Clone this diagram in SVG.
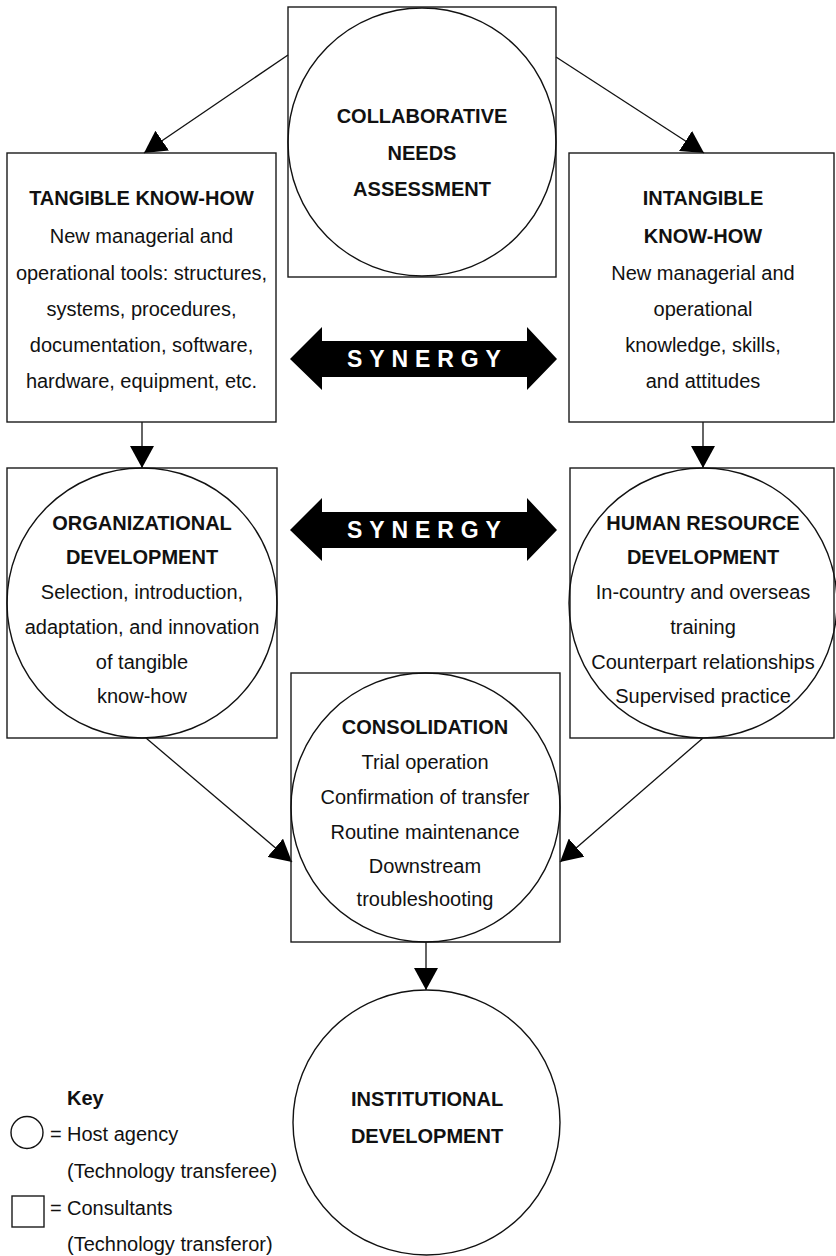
<svg xmlns="http://www.w3.org/2000/svg" width="836" height="1256" viewBox="0 0 836 1256">
  <style>
    .box { fill: none; stroke: #1a1a1a; stroke-width: 1.4; }
    .ell { fill: none; stroke: #111; stroke-width: 1.4; }
    .t { font-family: "Liberation Sans", Arial, sans-serif; font-size: 20px; fill: #111; text-anchor: middle; }
    .b { font-weight: bold; }
    .k { font-family: "Liberation Sans", Arial, sans-serif; font-size: 20px; fill: #111; }
    .conn { fill: none; stroke: #111; stroke-width: 1.3; }
    .syn { fill: #000; }
    .syntext { font-family: "Liberation Sans", Arial, sans-serif; font-weight: bold; font-size: 23px; fill: #fff; letter-spacing: 6.9px; }
  </style>
  <defs>
    <marker id="head" markerUnits="userSpaceOnUse" markerWidth="22" markerHeight="24" refX="22" refY="12" orient="auto">
      <path d="M0,0 L22,12 L0,24 z" fill="#000"/>
    </marker>
  </defs>
  <rect width="836" height="1256" fill="#fff"/>

  <!-- connectors -->
  <g id="connectors">
    <line class="conn" x1="288" y1="55" x2="144" y2="153" marker-end="url(#head)"/>
    <line class="conn" x1="556" y1="57" x2="704" y2="153" marker-end="url(#head)"/>
    <line class="conn" x1="142" y1="422" x2="142" y2="468" marker-end="url(#head)"/>
    <line class="conn" x1="703" y1="422" x2="703" y2="468" marker-end="url(#head)"/>
    <line class="conn" x1="146" y1="738" x2="292" y2="862" marker-end="url(#head)"/>
    <line class="conn" x1="703" y1="738" x2="560" y2="862" marker-end="url(#head)"/>
    <line class="conn" x1="426" y1="942" x2="426" y2="990" marker-end="url(#head)"/>
  </g>

  <!-- synergy double arrows -->
  <g id="synergy-top">
    <path class="syn" d="M290,359 L322,327 L322,341 L527,341 L527,327 L557,359 L527,390 L527,377 L322,377 L322,390 z"/>
    <text class="syntext" x="347" y="367">SYNERGY</text>
  </g>
  <g id="synergy-bottom">
    <path class="syn" d="M290,530 L322,498 L322,512 L527,512 L527,498 L557,530 L527,561 L527,548 L322,548 L322,561 z"/>
    <text class="syntext" x="347" y="538">SYNERGY</text>
  </g>

  <!-- collaborative needs assessment -->
  <g id="needs-assessment">
    <rect class="box" x="288" y="7" width="268" height="270"/>
    <ellipse class="ell" cx="422" cy="142" rx="134" ry="134"/>
    <text class="t b" x="422" y="123">COLLABORATIVE</text>
    <text class="t b" x="422" y="160">NEEDS</text>
    <text class="t b" x="422" y="196">ASSESSMENT</text>
  </g>

  <!-- tangible know-how -->
  <g id="tangible-know-how">
    <rect class="box" x="7" y="153" width="269" height="269"/>
    <text class="t b" x="141.5" y="205">TANGIBLE KNOW-HOW</text>
    <text class="t" x="141.5" y="243">New managerial and</text>
    <text class="t" x="141.5" y="280">operational tools: structures,</text>
    <text class="t" x="141.5" y="316">systems, procedures,</text>
    <text class="t" x="141.5" y="352">documentation, software,</text>
    <text class="t" x="141.5" y="388">hardware, equipment, etc.</text>
  </g>

  <!-- intangible know-how -->
  <g id="intangible-know-how">
    <rect class="box" x="569" y="153" width="265" height="269"/>
    <text class="t b" x="703" y="205">INTANGIBLE</text>
    <text class="t b" x="703" y="243">KNOW-HOW</text>
    <text class="t" x="703" y="280">New managerial and</text>
    <text class="t" x="703" y="316">operational</text>
    <text class="t" x="703" y="352">knowledge, skills,</text>
    <text class="t" x="703" y="388">and attitudes</text>
  </g>

  <!-- organizational development -->
  <g id="organizational-development">
    <rect class="box" x="7" y="468" width="270" height="270"/>
    <ellipse class="ell" cx="142" cy="603" rx="135" ry="135"/>
    <text class="t b" x="142" y="530">ORGANIZATIONAL</text>
    <text class="t b" x="142" y="564">DEVELOPMENT</text>
    <text class="t" x="142" y="599">Selection, introduction,</text>
    <text class="t" x="142" y="634">adaptation, and innovation</text>
    <text class="t" x="142" y="669">of tangible</text>
    <text class="t" x="142" y="703">know-how</text>
  </g>

  <!-- human resource development -->
  <g id="human-resource-development">
    <rect class="box" x="570" y="468" width="264" height="270"/>
    <ellipse class="ell" cx="703" cy="603" rx="134" ry="135"/>
    <text class="t b" x="703" y="530">HUMAN RESOURCE</text>
    <text class="t b" x="703" y="564">DEVELOPMENT</text>
    <text class="t" x="703" y="599">In-country and overseas</text>
    <text class="t" x="703" y="634">training</text>
    <text class="t" x="703" y="669">Counterpart relationships</text>
    <text class="t" x="703" y="703">Supervised practice</text>
  </g>

  <!-- consolidation -->
  <g id="consolidation">
    <rect class="box" x="291" y="673" width="269" height="269"/>
    <ellipse class="ell" cx="425.5" cy="807.5" rx="134.5" ry="134.5"/>
    <text class="t b" x="425" y="734">CONSOLIDATION</text>
    <text class="t" x="425" y="769">Trial operation</text>
    <text class="t" x="425" y="804">Confirmation of transfer</text>
    <text class="t" x="425" y="839">Routine maintenance</text>
    <text class="t" x="425" y="873">Downstream</text>
    <text class="t" x="425" y="906">troubleshooting</text>
  </g>

  <!-- institutional development -->
  <g id="institutional-development">
    <ellipse class="ell" cx="426.5" cy="1122.5" rx="133.5" ry="132.5"/>
    <text class="t b" x="427" y="1106">INSTITUTIONAL</text>
    <text class="t b" x="427" y="1143">DEVELOPMENT</text>
  </g>

  <!-- key -->
  <g id="key">
    <text class="k b" x="67" y="1105">Key</text>
    <ellipse class="ell" cx="27" cy="1132.5" rx="16" ry="16"/>
    <text class="k" x="50" y="1141">=</text>
    <text class="k" x="67" y="1141">Host agency</text>
    <text class="k" x="67" y="1178">(Technology transferee)</text>
    <rect class="box" x="12" y="1196" width="32" height="31"/>
    <text class="k" x="50" y="1215">=</text>
    <text class="k" x="67" y="1215">Consultants</text>
    <text class="k" x="67" y="1251">(Technology transferor)</text>
  </g>
</svg>
